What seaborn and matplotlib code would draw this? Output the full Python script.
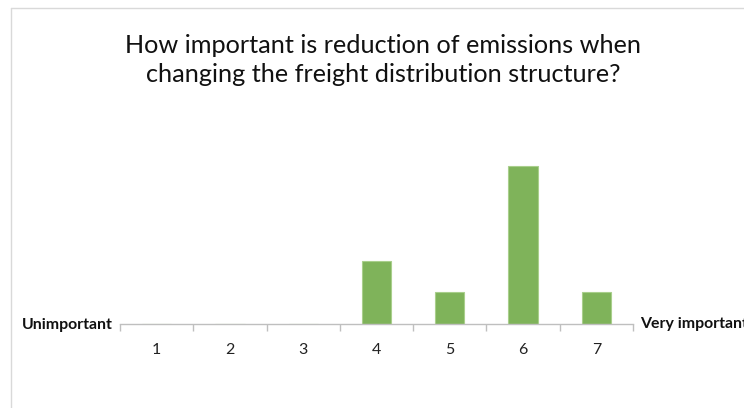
import matplotlib
matplotlib.use("Agg")
import matplotlib.pyplot as plt
from matplotlib.lines import Line2D
import seaborn as sns
import pandas as pd

# Survey answers on a 1–7 scale
scale_points = ["1", "2", "3", "4", "5", "6", "7"]
responses = [0, 0, 0, 2, 1, 5, 1]
low_label = "Unimportant"
high_label = "Very important"
title_text = ("How important is reduction of emissions when\n"
              "changing the freight distribution structure?")

sns.set_theme(style="white")
plt.rcParams["font.family"] = ["Lato", "DejaVu Sans"]

W, H = 744, 408
fig = plt.figure(figsize=(W / 100, H / 100), dpi=100)
fig.patch.set_facecolor("white")

# plot area in pixel coordinates
left, right, top, bottom = 120, 633, 134, 324
ax = fig.add_axes([left / W, 1 - bottom / H, (right - left) / W, (bottom - top) / H])

df = pd.DataFrame({"score": scale_points, "count": responses})
sns.barplot(data=df, x="score", y="count", color="#7fb35a", width=0.4,
            edgecolor="#a9cf8c", linewidth=0.8, saturation=1, ax=ax)

ax.set_xlim(-0.5, len(scale_points) - 0.5)
ax.set_ylim(0, 6)
ax.set_xlabel("")
ax.set_ylabel("")
ax.set_yticks([])
for side in ("left", "top", "right"):
    ax.spines[side].set_visible(False)
ax.spines["bottom"].set_color("#bfbfbf")
ax.spines["bottom"].set_linewidth(1.0)

ax.set_xticks(range(len(scale_points)))
ax.set_xticklabels(scale_points, fontsize=11.5, color="#222222")
ax.tick_params(axis="x", which="major", length=0, pad=14)
ax.set_xticks([i - 0.5 for i in range(len(scale_points) + 1)], minor=True)
ax.tick_params(axis="x", which="minor", length=5, width=1.0, color="#bfbfbf",
               direction="out", bottom=True)

# end-of-scale labels beside the axis
fig.text(113 / W, 1 - 325 / H, low_label, ha="right", va="center",
         fontsize=11.4, fontweight="bold", color="#111111")
fig.text(640 / W, 1 - 324 / H, high_label, ha="left", va="center",
         fontsize=11.4, fontweight="bold", color="#111111")

fig.text(383 / W, 1 - 60 / H, title_text, ha="center", va="center",
         fontsize=18.2, color="#111111", linespacing=1.35)

# chart frame
frame_color = "#d9d9d9"
fig.add_artist(Line2D([11 / W, 11 / W], [0, 1 - 8 / H], color=frame_color,
                      linewidth=1.0, transform=fig.transFigure))
fig.add_artist(Line2D([11 / W, 1], [1 - 8 / H, 1 - 8 / H], color=frame_color,
                      linewidth=1.0, transform=fig.transFigure))

fig.savefig("out.png", dpi=100, facecolor="white")
